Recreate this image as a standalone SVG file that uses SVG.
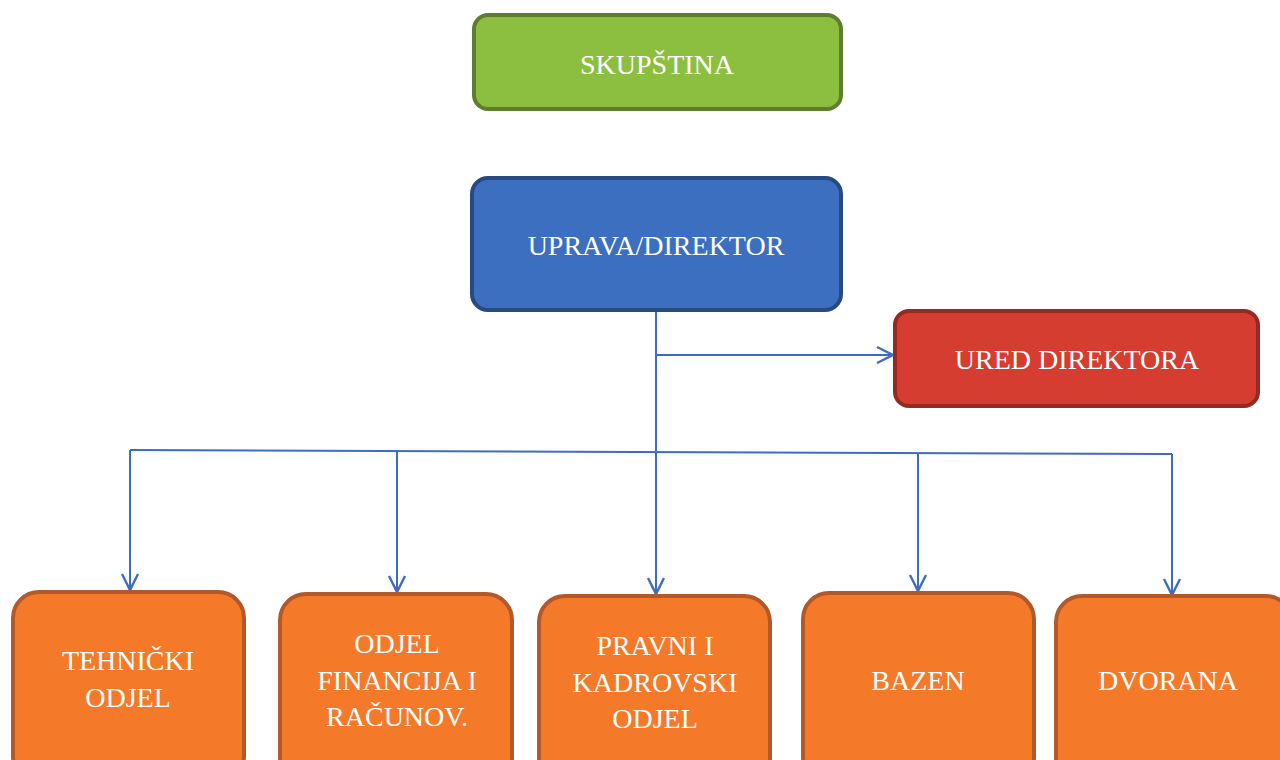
<svg xmlns="http://www.w3.org/2000/svg" width="1280" height="760" viewBox="0 0 1280 760">
  <style>
    .box { stroke-width: 4; }
    .green { fill: #8cbf3f; stroke: #5f7d2e; }
    .blue { fill: #3d6fc0; stroke: #274a80; }
    .red { fill: #d43d2f; stroke: #962a22; }
    .orange { fill: #f47a2a; stroke: #b2582a; }
    .lbl { font-family: "Liberation Serif", "DejaVu Serif", serif; font-size: 28px; fill: #ffffff; text-anchor: middle; }
    .conn { stroke: #3d6cc0; stroke-width: 2; fill: none; }
  </style>
  <defs>
    <marker id="arr" markerUnits="userSpaceOnUse" markerWidth="24" markerHeight="24" viewBox="0 0 24 24" refX="19" refY="12" orient="auto">
      <path d="M3,4 L19,12 L3,20" fill="none" stroke="#3d6cc0" stroke-width="2.4"/>
    </marker>
  </defs>
  <rect width="1280" height="760" fill="#ffffff"/>

  <g id="connectors">
    <path class="conn" d="M656,310 L656,451"/>
    <path class="conn" d="M656,355 L893,355" marker-end="url(#arr)"/>
    <path class="conn" d="M130,450 L1172,454"/>
    <path class="conn" d="M130,450 L130,590" marker-end="url(#arr)"/>
    <path class="conn" d="M397,451 L397,592" marker-end="url(#arr)"/>
    <path class="conn" d="M656,452 L656,594" marker-end="url(#arr)"/>
    <path class="conn" d="M918,453 L918,591" marker-end="url(#arr)"/>
    <path class="conn" d="M1172,454 L1172,595" marker-end="url(#arr)"/>
  </g>

  <g id="skupstina">
    <rect class="box green" x="474" y="15" width="367" height="94" rx="14"/>
    <text class="lbl" x="657" y="74">SKUPŠTINA</text>
  </g>

  <g id="uprava">
    <rect class="box blue" x="472" y="178" width="369" height="132" rx="16"/>
    <text class="lbl" x="656" y="255">UPRAVA/DIREKTOR</text>
  </g>

  <g id="ured">
    <rect class="box red" x="895" y="311" width="363" height="95" rx="14"/>
    <text class="lbl" x="1077" y="369">URED DIREKTORA</text>
  </g>

  <g id="tehnicki">
    <rect class="box orange" x="13" y="592" width="231" height="190" rx="26"/>
    <text class="lbl" x="128" y="670">TEHNIČKI</text>
    <text class="lbl" x="128" y="707">ODJEL</text>
  </g>

  <g id="financije">
    <rect class="box orange" x="280" y="594" width="232" height="190" rx="26"/>
    <text class="lbl" x="397" y="653">ODJEL</text>
    <text class="lbl" x="397" y="690">FINANCIJA I</text>
    <text class="lbl" x="397" y="726">RAČUNOV.</text>
  </g>

  <g id="pravni">
    <rect class="box orange" x="539" y="596" width="231" height="190" rx="26"/>
    <text class="lbl" x="655" y="655">PRAVNI I</text>
    <text class="lbl" x="655" y="692">KADROVSKI</text>
    <text class="lbl" x="655" y="728">ODJEL</text>
  </g>

  <g id="bazen">
    <rect class="box orange" x="803" y="593" width="231" height="190" rx="26"/>
    <text class="lbl" x="918" y="690">BAZEN</text>
  </g>

  <g id="dvorana">
    <rect class="box orange" x="1056" y="596" width="236" height="190" rx="26"/>
    <text class="lbl" x="1168" y="690">DVORANA</text>
  </g>
</svg>
